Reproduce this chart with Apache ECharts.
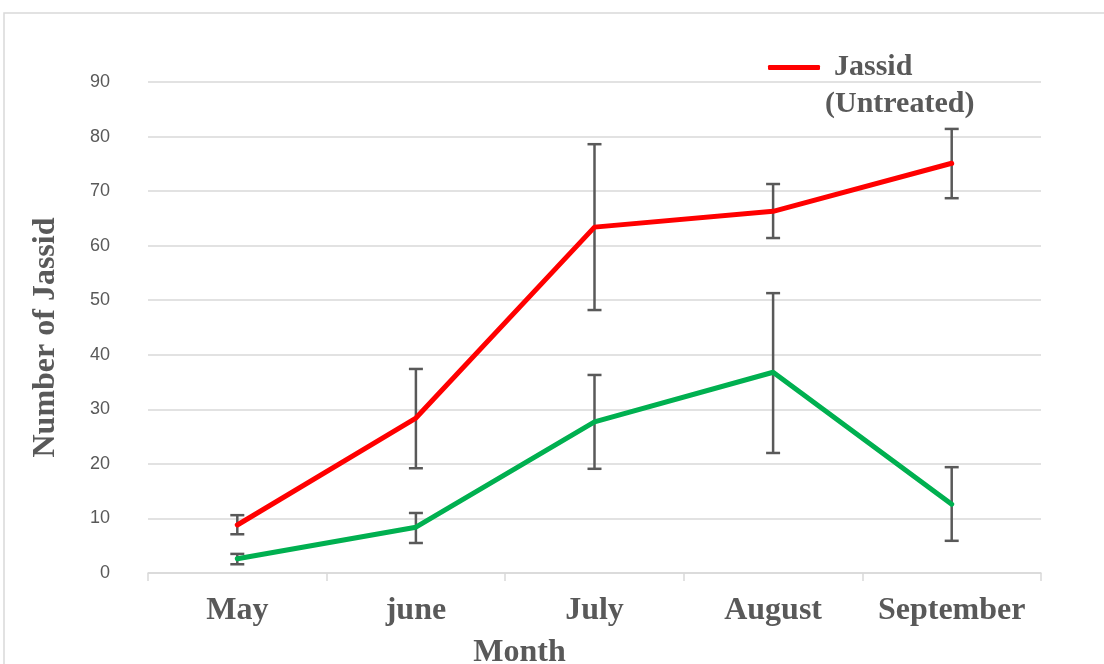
<!DOCTYPE html>
<html>
<head>
<meta charset="utf-8">
<script src="https://cdn.jsdelivr.net/npm/echarts@6/dist/echarts.min.js"></script>
<style>
  html, body { margin: 0; padding: 0; background: #fff; }
  #chart { width: 1104px; height: 664px; }
</style>
</head>
<body>
<div id="chart"></div>
<script>
// 月份
const months = ['May', 'june', 'July', 'August', 'September'];

// 未处理 (红线) 及误差范围
const untreated = [8.8, 28.4, 63.4, 66.3, 75.1];
const untreatedLow = [7.1, 19.2, 48.2, 61.4, 68.7];
const untreatedHigh = [10.6, 37.4, 78.6, 71.3, 81.4];

// 处理组 (绿线) 及误差范围
const treated = [2.6, 8.4, 27.7, 36.8, 12.6];
const treatedLow = [1.6, 5.5, 19.1, 22.0, 5.9];
const treatedHigh = [3.5, 11.0, 36.3, 51.3, 19.4];

const textGray = '#595959';
const gridGray = '#d9d9d9';
const serif = 'Liberation Serif';

// 误差线数据 [x, low, high]
function errData(low, high) {
    return months.map((m, i) => [i, low[i], high[i]]);
}

function renderError(params, api) {
    const x = api.value(0);
    const lo = api.coord([x, api.value(1)]);
    const hi = api.coord([x, api.value(2)]);
    const half = 7;
    const style = { stroke: textGray, lineWidth: 2.5 };
    return {
        type: 'group',
        children: [
            { type: 'line', shape: { x1: lo[0], y1: lo[1], x2: hi[0], y2: hi[1] }, style: style },
            { type: 'line', shape: { x1: lo[0] - half, y1: lo[1], x2: lo[0] + half, y2: lo[1] }, style: style },
            { type: 'line', shape: { x1: hi[0] - half, y1: hi[1], x2: hi[0] + half, y2: hi[1] }, style: style }
        ]
    };
}

const chart = echarts.init(document.getElementById('chart'));

const option = {
    animation: false,
    backgroundColor: '#fff',
    graphic: [{
        type: 'rect',
        shape: { x: 4, y: 13, width: 1110, height: 660 },
        style: { fill: 'none', stroke: gridGray, lineWidth: 1.5 },
        z: -1
    }],
    grid: { left: 148, right: 63, top: 82, bottom: 91, outerBoundsMode: 'none', containLabel: false },
    legend: {
        data: [{ name: 'Jassid (Untreated)', icon: 'roundRect' }],
        left: 768,
        top: 12,
        padding: 0,
        itemWidth: 52,
        itemHeight: 5,
        formatter: () => '{a|Jassid}\n{b|(Untreated)}',
        textStyle: {
            fontFamily: serif,
            fontWeight: 'bold',
            fontSize: 30,
            color: textGray,
            lineHeight: 37,
            padding: [37, 0, 0, 0],
            rich: {
                a: { fontFamily: serif, fontWeight: 'bold', fontSize: 30, color: textGray, lineHeight: 37, padding: [0, 0, 0, 9] },
                b: { fontFamily: serif, fontWeight: 'bold', fontSize: 30, color: textGray, lineHeight: 37 }
            }
        }
    },
    xAxis: {
        type: 'category',
        data: months,
        boundaryGap: true,
        name: 'Month',
        nameLocation: 'middle',
        nameGap: 64,
        nameTextStyle: { fontFamily: serif, fontWeight: 'bold', fontSize: 32, color: textGray, padding: [0, 150, 0, 0] },
        axisLine: { lineStyle: { color: gridGray, width: 1.5 } },
        axisTick: { show: true, length: 8, lineStyle: { color: gridGray, width: 1.5 } },
        axisLabel: {
            interval: 0,
            margin: 22,
            fontFamily: serif,
            fontWeight: 'bold',
            fontSize: 32,
            color: textGray
        }
    },
    yAxis: {
        type: 'value',
        min: 0,
        max: 90,
        interval: 10,
        name: 'Number of Jassid',
        nameLocation: 'middle',
        nameGap: 86,
        nameTextStyle: { fontFamily: serif, fontWeight: 'bold', fontSize: 32, color: textGray, padding: [0, 20, 0, 0] },
        axisLine: { show: false },
        axisTick: { show: false },
        axisLabel: { margin: 38, fontFamily: 'Liberation Sans', fontSize: 18, color: textGray },
        splitLine: { lineStyle: { color: gridGray, width: 1.5 } }
    },
    series: [
        {
            name: 'Jassid (Untreated)',
            type: 'line',
            data: untreated,
            symbol: 'none',
            color: '#ff0000',
            lineStyle: { width: 5, color: '#ff0000', cap: 'round' },
            z: 3
        },
        {
            name: 'Jassid (Treated)',
            type: 'line',
            data: treated,
            symbol: 'none',
            color: '#00b050',
            lineStyle: { width: 5, color: '#00b050', cap: 'round' },
            z: 3
        },
        {
            name: 'errUntreated',
            type: 'custom',
            renderItem: renderError,
            data: errData(untreatedLow, untreatedHigh),
            z: 2
        },
        {
            name: 'errTreated',
            type: 'custom',
            renderItem: renderError,
            data: errData(treatedLow, treatedHigh),
            z: 2
        }
    ]
};

chart.setOption(option);
</script>
</body>
</html>
